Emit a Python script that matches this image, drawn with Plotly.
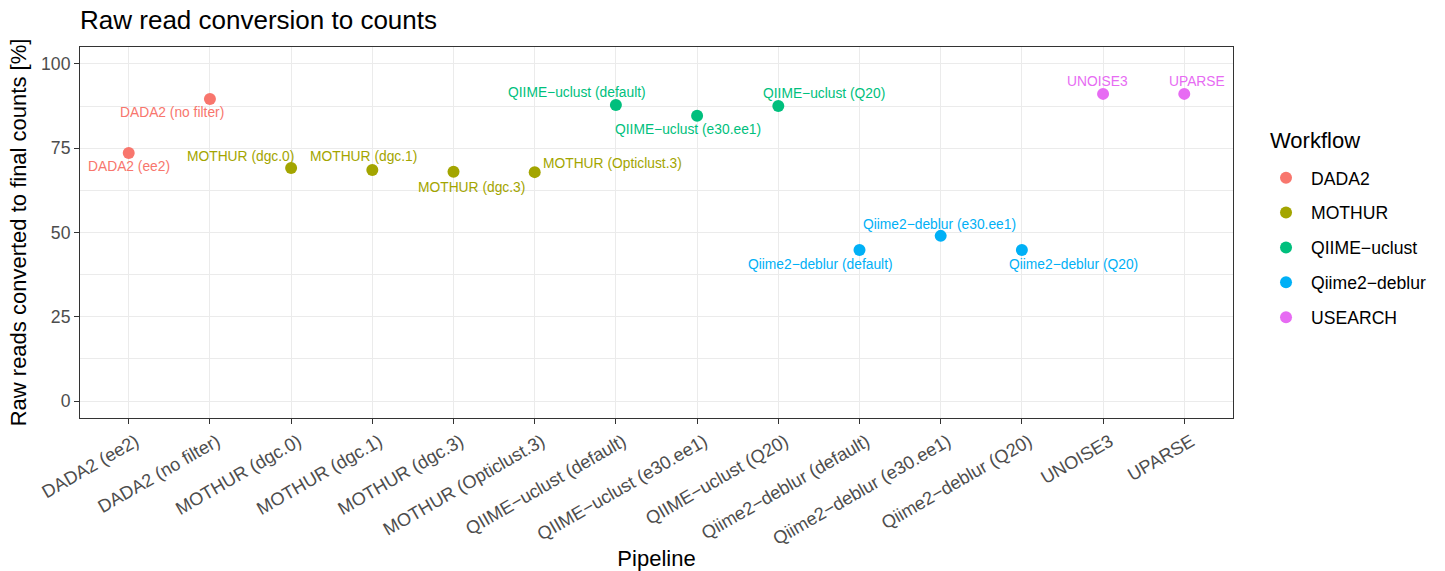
import plotly.graph_objects as go

# Pipelines in axis order, with workflow membership and conversion rate (%)
pipelines = [
    "DADA2 (ee2)", "DADA2 (no filter)",
    "MOTHUR (dgc.0)", "MOTHUR (dgc.1)", "MOTHUR (dgc.3)", "MOTHUR (Opticlust.3)",
    "QIIME\u2212uclust (default)", "QIIME\u2212uclust (e30.ee1)", "QIIME\u2212uclust (Q20)",
    "Qiime2\u2212deblur (default)", "Qiime2\u2212deblur (e30.ee1)", "Qiime2\u2212deblur (Q20)",
    "UNOISE3", "UPARSE",
]
workflow = [
    "DADA2", "DADA2",
    "MOTHUR", "MOTHUR", "MOTHUR", "MOTHUR",
    "QIIME\u2212uclust", "QIIME\u2212uclust", "QIIME\u2212uclust",
    "Qiime2\u2212deblur", "Qiime2\u2212deblur", "Qiime2\u2212deblur",
    "USEARCH", "USEARCH",
]
converted_pct = [
    73.6, 89.6,
    69.1, 68.5, 68.0, 67.9,
    87.8, 84.6, 87.5,
    44.8, 49.0, 44.8,
    91.1, 91.1,
]

workflows = ["DADA2", "MOTHUR", "QIIME\u2212uclust", "Qiime2\u2212deblur", "USEARCH"]
palette = ["#F8766D", "#A3A500", "#00BF7D", "#00B0F6", "#E76BF3"]

# Repelled label offsets (pixels) for each point's text
label_dx = [0, -38, -51, -9, 18, 78, -39, -9, 46, -39, -1, 52, -6, 13]
label_dy = [-14, -14, 12, 14, -16, 9, 13, -14, 13, -14, 11, -14, 12, 12]

FONT = "Liberation Sans, Arial, sans-serif"
colour_of = dict(zip(workflows, palette))

fig = go.Figure()
for wf, col in zip(workflows, palette):
    xs = [p for p, w in zip(pipelines, workflow) if w == wf]
    ys = [v for v, w in zip(converted_pct, workflow) if w == wf]
    fig.add_trace(go.Scatter(
        x=xs, y=ys, mode="markers", name=wf, legendgroup=wf,
        marker=dict(size=12, color=col),
    ))

for p, w, v, dx, dy in zip(pipelines, workflow, converted_pct, label_dx, label_dy):
    fig.add_annotation(
        x=p, y=v, xref="x", yref="y", text=p, showarrow=False,
        xshift=dx, yshift=dy, xanchor="center", yanchor="middle",
        font=dict(family=FONT, size=13.8, color=colour_of[w]),
    )

# Legend heading
fig.add_annotation(
    x=1.0304, y=0.749, xref="paper", yref="paper", text="Workflow",
    showarrow=False, xanchor="left", yanchor="middle",
    font=dict(family=FONT, size=22, color="black"),
)

fig.update_layout(
    width=1445, height=571,
    paper_bgcolor="white", plot_bgcolor="white",
    margin=dict(l=80, r=212, t=47, b=153),
    font=dict(family=FONT, color="black"),
    title=dict(text="Raw read conversion to counts", x=0.0554, xanchor="left",
               y=1 - 20 / 571, yanchor="middle", yref="container",
               font=dict(size=26, color="black")),
    showlegend=True,
    legend=dict(
        font=dict(size=17.6, color="black"),
        x=1.0243, xanchor="left", y=0.696, yanchor="top",
        tracegroupgap=9, itemwidth=40, itemsizing="constant",
        bgcolor="rgba(0,0,0,0)",
    ),
)

fig.update_xaxes(
    type="category", categoryorder="array", categoryarray=pipelines,
    range=[-0.6, len(pipelines) - 1 + 0.6], automargin=False,
    tickangle=-30, tickfont=dict(size=18.2, color="#4D4D4D"),
    ticklabelshift=7,
    ticks="outside", ticklen=5, tickwidth=1.1, tickcolor="#333333",
    showgrid=True, gridcolor="#EBEBEB", gridwidth=1.4,
    showline=True, linecolor="#333333", linewidth=1.1, mirror=True,
    zeroline=False,
    title=dict(text="Pipeline", font=dict(size=22, color="black"), standoff=5),
)
fig.update_yaxes(
    range=[-5, 105], tickvals=[0, 25, 50, 75, 100], automargin=False,
    tickfont=dict(size=17.6, color="#4D4D4D"),
    ticks="outside", ticklen=5, tickwidth=1.1, tickcolor="#333333",
    showgrid=True, gridcolor="#EBEBEB", gridwidth=1.4,
    minor=dict(dtick=12.5, tick0=0, showgrid=True, gridcolor="#EBEBEB", gridwidth=0.7, ticks=""),
    showline=True, linecolor="#333333", linewidth=1.1, mirror=True,
    zeroline=False,
    title=dict(text="Raw reads converted to final counts [%]", font=dict(size=22, color="black"), standoff=8),
)

fig.write_html("out.html")
